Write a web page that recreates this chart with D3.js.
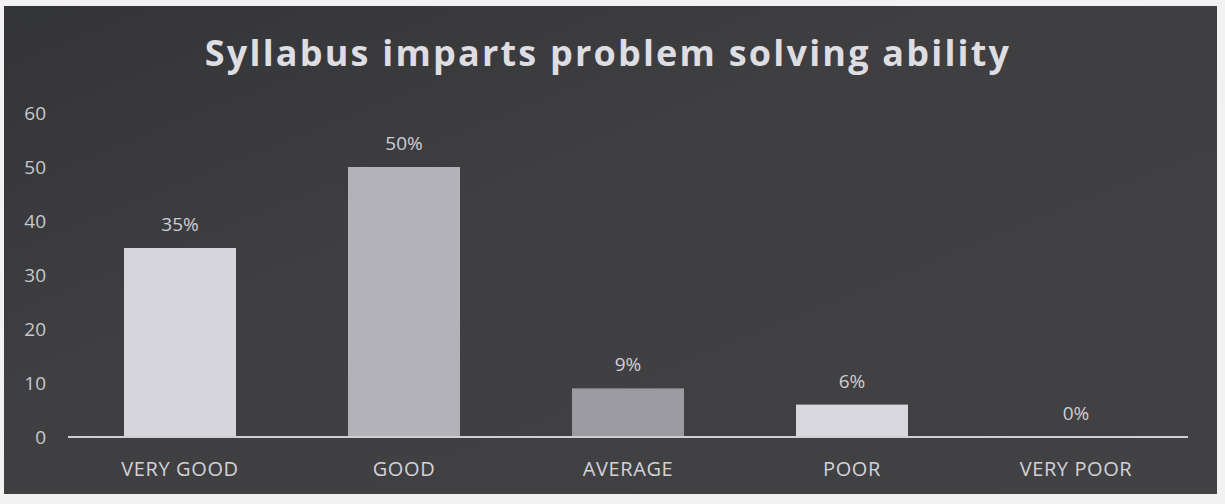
<!DOCTYPE html>
<html><head><meta charset="utf-8">
<script src="https://cdn.jsdelivr.net/npm/d3@7"></script>
<style>html,body{margin:0;padding:0;background:#f2f2f2;}svg{display:block;}</style>
</head><body>
<svg id="c" width="1225" height="504"></svg>
<script>
const categories = ["VERY GOOD","GOOD","AVERAGE","POOR","VERY POOR"];
const values = [35, 50, 9, 6, 0];
const valueLabels = ["35%","50%","9%","6%","0%"];
const yTicks = [0,10,20,30,40,50,60];
const barColors = ["#d6d5dc","#b3b2b8","#9c9ba1","#d9d8de","#cfcfd4"];
const title = "Syllabus imparts problem solving ability";

const svg = d3.select("#c");
const defs = svg.append("defs");
const g = defs.append("linearGradient").attr("id","bg").attr("x1",0).attr("y1",0).attr("x2",1).attr("y2",1);
g.append("stop").attr("offset","0%").attr("stop-color","#333437");
g.append("stop").attr("offset","40%").attr("stop-color","#3f3f42");
g.append("stop").attr("offset","100%").attr("stop-color","#424143");
svg.append("rect").attr("x",4).attr("y",6).attr("width",1213).attr("height",488).attr("fill","url(#bg)");

const x = d3.scaleBand().domain(categories).range([68,1188]).paddingInner(0.5).paddingOuter(0.25);
const y = d3.scaleLinear().domain([0,60]).range([437,113]);

svg.append("text").attr("x",608).attr("y",66).attr("text-anchor","middle")
  .attr("font-family","Open Sans").attr("font-weight",700).attr("font-size",36)
  .attr("fill","#dedde2").attr("letter-spacing",2.2).text(title);

const yAxis = svg.append("g").attr("transform","translate(48,0)")
  .call(d3.axisLeft(y).tickValues(yTicks).tickSize(0).tickPadding(2));
yAxis.select(".domain").remove();
yAxis.selectAll("text").attr("font-family","Open Sans").attr("font-size",19).attr("fill","#c9c8cc");

svg.selectAll("rect.bar").data(values).join("rect").attr("class","bar")
  .attr("x",(d,i)=>x(categories[i])).attr("width",x.bandwidth())
  .attr("y",d=>y(d)).attr("height",d=>y(0)-y(d))
  .attr("fill",(d,i)=>barColors[i]);

svg.append("line").attr("x1",68).attr("x2",1188).attr("y1",y(0)).attr("y2",y(0))
  .attr("stroke","#cfcfd3").attr("stroke-width",2);

svg.selectAll("text.vl").data(values).join("text").attr("class","vl")
  .attr("x",(d,i)=>x(categories[i])+x.bandwidth()/2).attr("y",d=>y(d)-17)
  .attr("text-anchor","middle").attr("font-family","Open Sans").attr("font-size",19)
  .attr("fill","#cfced3").text((d,i)=>valueLabels[i]);

const xAxis = svg.append("g").attr("transform",`translate(0,${y(0)})`)
  .call(d3.axisBottom(x).tickSize(0).tickPadding(25));
xAxis.select(".domain").remove();
xAxis.selectAll("text").attr("font-family","Open Sans").attr("font-size",20).attr("letter-spacing",0.6).attr("fill","#d3d2d7");
</script>
</body></html>
